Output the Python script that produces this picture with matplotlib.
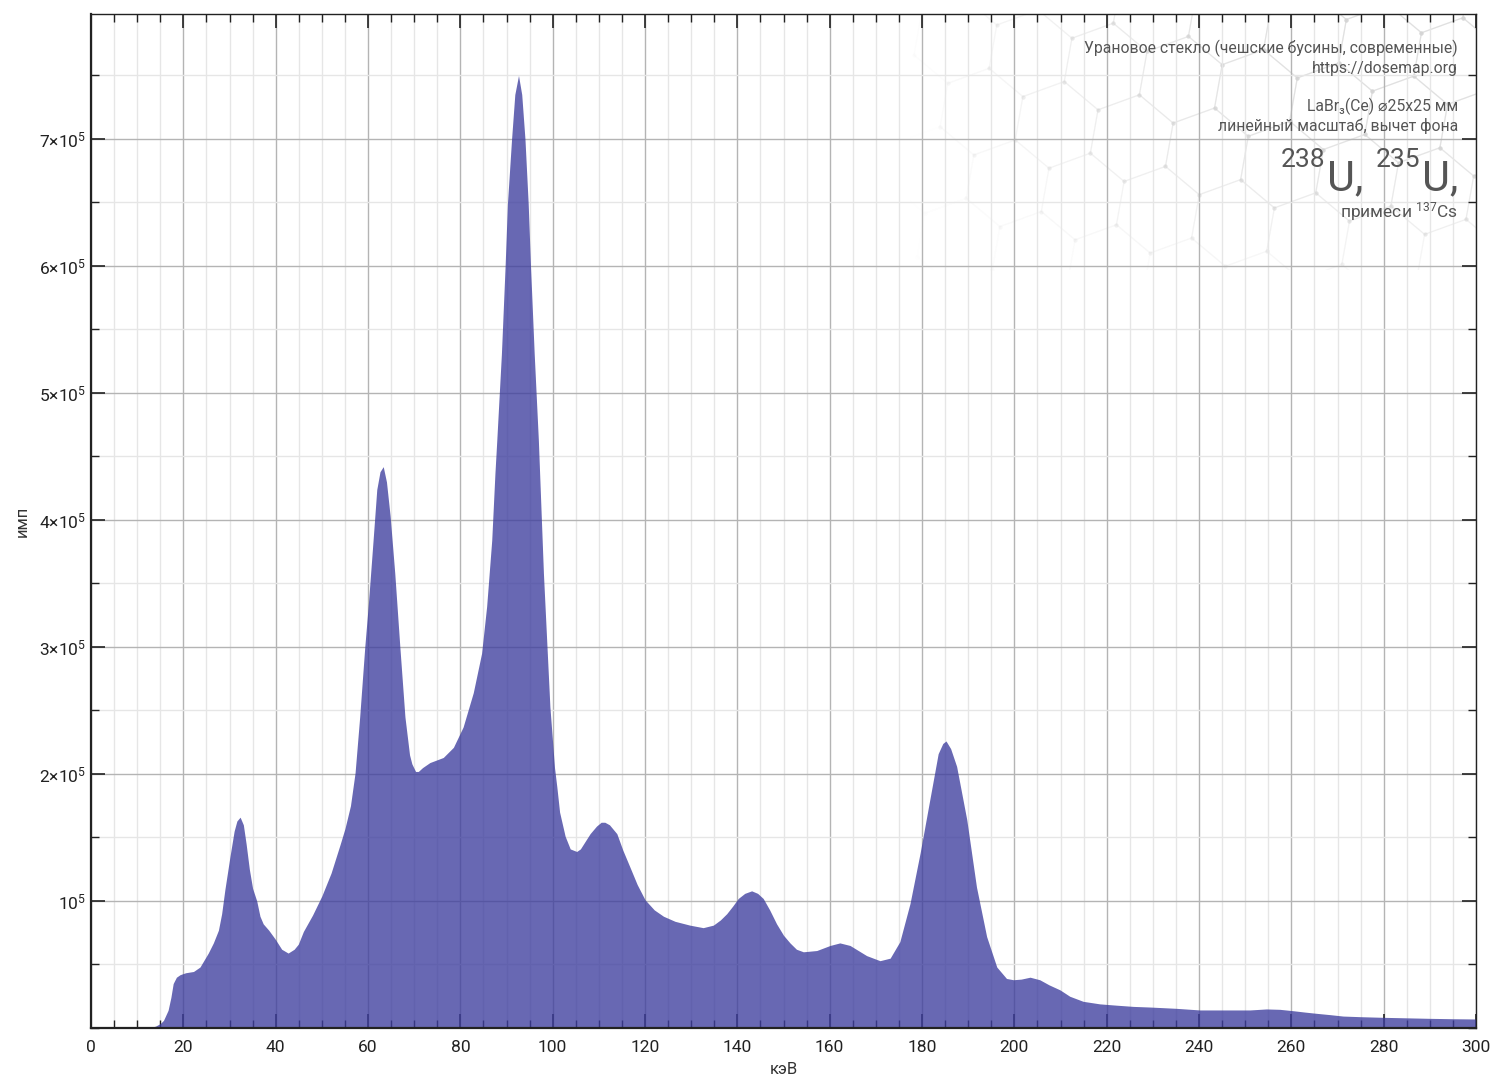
import numpy as np
import matplotlib
matplotlib.use("Agg")
import matplotlib.pyplot as plt
from matplotlib.ticker import MultipleLocator, FixedLocator, FuncFormatter

plt.rcParams['font.family'] = ['Roboto', 'DejaVu Sans']
plt.rcParams['mathtext.fontset'] = 'custom'
plt.rcParams['mathtext.rm'] = 'Roboto'
plt.rcParams['mathtext.it'] = 'Roboto:italic'
plt.rcParams['mathtext.bf'] = 'Roboto:bold'

# spectrum: energy in keV, counts in thousands
energy = [0, 12, 13, 14, 15, 15.7, 16.7, 17.3, 17.8, 18.5,
          19.3, 20.5, 22.2, 23.6, 25.4, 26.5, 27.6, 28.3, 29.0, 30.1,
          31.0, 31.6, 32.3, 33.0, 33.6, 34.3, 35.0, 35.9, 36.6, 37.3,
          38.5, 39.9, 41.3, 42.7, 44.0, 44.9, 46, 48, 50, 52,
          54, 55, 56.2, 57.2, 58.2, 59.3, 60.1, 61.1, 61.9, 62.6,
          63.3, 64.0, 64.8, 65.8, 66.9, 68.0, 69.0, 69.5, 70.3, 70.9,
          71.8, 73.4, 76.3, 78.5, 80.6, 82.8, 84.6, 85.7, 86.8, 87.5,
          87.9, 88.9, 89.7, 90.2, 91.1, 91.8, 92.6, 93.3, 94.0, 94.7,
          95.2, 96.0, 96.9, 98.0, 99.4, 100.4, 100.9, 101.5, 102.7, 103.8,
          105.2, 106.0, 108.1, 109.5, 110.5, 111.3, 112.3, 113.9, 115.2, 116.7,
          118.3, 120.0, 122.0, 124.0, 126.5, 129.7, 132.6, 134.8, 136.3, 137.7,
          139.0, 140.2, 141.6, 143.1, 144.4, 145.6, 147.0, 148.5, 150.0, 151.4,
          152.8, 154.3, 157.2, 160.1, 162.2, 164.4, 166.2, 168.0, 170.9, 173.1,
          175.2, 177.4, 179.6, 181.7, 183.5, 184.5, 185.2, 186.2, 187.5, 189.7,
          191.8, 194.0, 196.2, 198.3, 199.8, 201.5, 203.4, 205.5, 207.5, 209.9,
          212.0, 214.9, 218.5, 222, 225.8, 229.4, 235, 240.2, 247.4, 251.0,
          254.6, 257.5, 260.4, 263, 265.6, 268.4, 271.2, 275, 279.9, 285,
          290, 295, 300]
counts_k = [0, 0, 0.5, 1.5, 3.5, 6, 14, 24, 35, 40,
            42, 43.5, 44.5, 48, 59, 67, 77, 90, 109, 135,
            155, 163, 166, 160, 145, 125, 110, 100, 88, 82,
            77, 70, 62, 59, 62, 66, 76, 89, 104, 122,
            145, 157, 175, 201, 245, 300, 335, 384, 424, 438,
            442, 430, 403, 358, 300, 245, 215, 208, 202, 202,
            205, 209, 213, 221, 237, 264, 295, 332, 384, 437,
            463, 531, 600, 649, 700, 735, 750, 735, 700, 649,
            600, 531, 463, 358, 253, 205, 190, 170, 151, 141,
            139, 141, 153, 159, 162, 162, 160, 153, 140, 127,
            113, 101, 93, 88, 84, 81, 79, 81, 85, 90,
            96, 102, 106, 108, 106, 102, 93, 82, 73, 67,
            62, 60, 61, 65, 67, 65, 61, 57, 53, 55,
            68, 98, 138, 180, 216, 224, 226, 220, 206, 164,
            111, 72, 48, 39, 38, 38.5, 40, 38, 34, 30,
            25, 21, 19, 18, 17, 16.5, 15.5, 14.2, 14.2, 14.2,
            15, 14.7, 13.6, 12.5, 11.5, 10.5, 9.4, 8.9, 8.4, 8,
            7.6, 7.3, 7.1]

x_major = list(range(0, 301, 20))
y_major = [1e5, 2e5, 3e5, 4e5, 5e5, 6e5, 7e5]

title_lines = ["Урановое стекло (чешские бусины, современные)", "https://dosemap.org"]
detector_lines = ["LaBr₃(Ce) ⌀25x25 мм", "линейный масштаб, вычет фона"]
isotopes = ["238", "235"]

E = np.array(energy)
N = np.array(counts_k) * 1000

fig = plt.figure(figsize=(14.91, 10.80), dpi=100)

# faint hexagon decoration in the upper right corner
bg = fig.add_axes([0.61, 0.75, 0.38, 0.237], zorder=0)
bg.set_xlim(0, 566)
bg.set_ylim(0, 256)
bg.axis('off')
r = 44.0
ang = np.deg2rad(20)
rot = np.array([[np.cos(ang), -np.sin(ang)], [np.sin(ang), np.cos(ang)]])
for i in range(-6, 14):
    for j in range(-6, 10):
        cx = i * 1.5 * r
        cy = j * np.sqrt(3) * r + (i % 2) * np.sqrt(3) / 2 * r
        c = rot @ np.array([cx, cy]) + np.array([0, -30])
        if c[0] < -60 or c[0] > 630 or c[1] < -60 or c[1] > 320:
            continue
        w = np.clip((c[0] - 0) / 380, 0, 1) * np.clip((c[1] + 30) / 180, 0, 1)
        if w <= 0.02:
            continue
        th = np.deg2rad(np.arange(0, 361, 60)) + ang
        hx = c[0] + r * np.cos(th)
        hy = c[1] + r * np.sin(th)
        bg.plot(hx, hy, color='#d4d4d4', lw=0.9, alpha=0.45 * w)
        bg.scatter(hx[:-1], hy[:-1], s=9, color='#d4d4d4', alpha=0.5 * w, lw=0)

ax = fig.add_axes([91 / 1491, 52 / 1080, 1385 / 1491, 1014 / 1080], zorder=1)
ax.patch.set_alpha(0)

ax.fill_between(E, 0, N, color='#3d3d9e', alpha=0.78, lw=0, zorder=3)

ax.set_xlim(0, 300)
ax.set_ylim(0, 7.984e5)
ax.xaxis.set_major_locator(FixedLocator(x_major))
ax.xaxis.set_minor_locator(MultipleLocator(5))
ax.yaxis.set_major_locator(FixedLocator(y_major))
ax.yaxis.set_minor_locator(MultipleLocator(0.5e5))


def ylab(v, pos):
    n = int(round(v / 1e5))
    if n == 1:
        return r'$10^{5}$'
    return r'$%d{\times}10^{5}$' % n


ax.yaxis.set_major_formatter(FuncFormatter(ylab))

ax.grid(which='major', color='#b4b4b4', lw=1.0, zorder=1)
ax.grid(which='minor', color='#e6e6e6', lw=1.0, zorder=1)
ax.set_axisbelow(True)

ax.tick_params(which='both', direction='in', top=True, right=True, colors='#222222',
               labelsize=12.5)
ax.tick_params(which='major', length=10, width=1.2)
ax.tick_params(which='minor', length=6, width=1.0)
ax.tick_params(axis='x', which='major', pad=9)
for s in ['left', 'bottom']:
    ax.spines[s].set_linewidth(1.6)
for s in ['right', 'top']:
    ax.spines[s].set_linewidth(1.0)
for s in ax.spines.values():
    s.set_color('#222222')
    s.set_zorder(5)

ax.set_xlabel('кэВ', fontsize=12, color='#333333', labelpad=5)
ax.set_ylabel('имп', fontsize=12, color='#333333', labelpad=7)

tx = 1458 / 1491
txt_color = '#555555'
fig.text(tx, 1 - 48 / 1080, title_lines[0], ha='right', va='center', fontsize=11.3, color=txt_color)
fig.text(tx, 1 - 68 / 1080, title_lines[1], ha='right', va='center', fontsize=11.3, color=txt_color)
fig.text(tx, 1 - 106 / 1080, detector_lines[0], ha='right', va='center', fontsize=11.3, color=txt_color)
fig.text(tx, 1 - 126 / 1080, detector_lines[1], ha='right', va='center', fontsize=11.3, color=txt_color)

# big isotope line, built right to left
u2 = fig.text(tx, 1 - 199 / 1080, 'U,', ha='right', va='bottom', fontsize=31,
              color=txt_color)
s2 = ax.annotate(isotopes[1], xy=(0, 1), xycoords=u2, xytext=(-1, 7), textcoords='offset points',
                 ha='right', va='top', fontsize=19, color=txt_color, annotation_clip=False)
u1 = ax.annotate('U,', xy=(0, 0), xycoords=(s2, u2), xytext=(-9, 0), textcoords='offset points',
                 ha='right', va='bottom', fontsize=31, color=txt_color, annotation_clip=False)
s1 = ax.annotate(isotopes[0], xy=(0, 1), xycoords=u1, xytext=(-1, 7), textcoords='offset points',
                 ha='right', va='top', fontsize=19, color=txt_color, annotation_clip=False)

fig.text(tx, 1 - 212 / 1080, r'примеси $^{137}$Cs', ha='right', va='center', fontsize=12.5,
         color=txt_color)

fig.savefig('out.png', dpi=100)
